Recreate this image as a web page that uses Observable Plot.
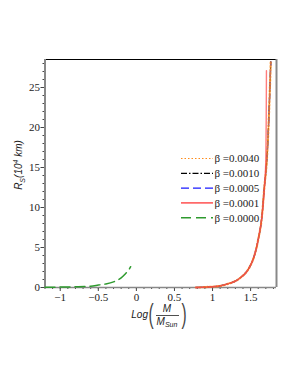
<!DOCTYPE html>
<html>
<head>
<meta charset="utf-8">
<script src="https://cdn.jsdelivr.net/npm/d3@7"></script>
<script src="https://cdn.jsdelivr.net/npm/@observablehq/plot@0.6"></script>
<style>
html,body{margin:0;padding:0;background:#fff;}
</style>
</head>
<body>
<div id="chart"></div>
<script>
// ---- data ----
const xDomain = [-1.2, 1.84];
const yDomain = [0, 28.5];
const xMajorTicks = [-1, -0.5, 0, 0.5, 1, 1.5];
const yMajorTicks = [0, 5, 10, 15, 20, 25];

const seriesNames = ["β =0.0040", "β =0.0010", "β =0.0005", "β =0.0001", "β =0.0000"];

const greenX = [-1.2, -1.0, -0.8, -0.6, -0.5, -0.4, -0.3, -0.25, -0.2, -0.15, -0.1, -0.075];
const greenY = [0.03, 0.05, 0.08, 0.16, 0.3, 0.45, 0.7, 0.9, 1.2, 1.65, 2.2, 2.6];

const mainX = [0.78, 0.85, 0.9, 1.0, 1.1, 1.2, 1.3, 1.37, 1.45, 1.5, 1.55, 1.6, 1.65, 1.68, 1.71, 1.73, 1.75, 1.765];
const y0040 = [0, 0.02, 0.05, 0.1, 0.2, 0.45, 0.8, 1.25, 2.0, 2.8, 4.0, 6.0, 9.0, 12.5, 15.5, 19, 24, 28.3];
const y0010 = [0, 0.02, 0.05, 0.1, 0.2, 0.45, 0.8, 1.25, 2.0, 2.8, 4.0, 6.0, 9.0, 12.5, 15.5, 19, 24, 28.2];
const y0005 = [0, 0.02, 0.05, 0.1, 0.2, 0.45, 0.8, 1.25, 2.0, 2.8, 4.0, 6.0, 9.0, 12.5, 15.5, 19, 24, 28.2];

const redX = [0.78, 0.85, 0.9, 1.0, 1.1, 1.2, 1.3, 1.37, 1.45, 1.5, 1.55, 1.6, 1.65, 1.68, 1.70, 1.705, 1.708];
const y0001 = [0, 0.02, 0.05, 0.1, 0.2, 0.45, 0.8, 1.25, 2.0, 2.8, 4.0, 6.0, 9.0, 12.3, 16, 21, 27.1];

// ---- styles ----
const styles = [
  {color: "#ff8c1a", dash: "1.5,2", width: 1.2},
  {color: "#000000", dash: "6,2,1.5,2", width: 1.2},
  {color: "#1a1aff", dash: "8,4", width: 1.3},
  {color: "#ff4444", dash: null, width: 1.4},
  {color: "#2e9a2e", dash: "10,5", width: 1.5}
];

const toRows = (xs, ys) => xs.map((x, i) => ({x, y: ys[i]}));
const lineMark = (xs, ys, s, w, op) => Plot.line(toRows(xs, ys), {x: "x", y: "y", stroke: s.color, strokeWidth: w ?? s.width, strokeOpacity: op ?? 1, strokeDasharray: s.dash, curve: "monotone-x"});

const fmt = d => String(d).replace("-", "\u2212");
const serif = "'Liberation Serif', 'DejaVu Serif', serif";

const chart = Plot.plot({
  width: 298,
  height: 385,
  marginLeft: 44.5,
  marginRight: 22,
  marginTop: 59,
  marginBottom: 98,
  style: {fontFamily: serif, fontSize: "11px", background: "#fff", overflow: "visible"},
  x: {domain: xDomain, label: null},
  y: {domain: yDomain, label: null},
  marks: [
    Plot.axisX({ticks: d3.range(-12, 19).map(i => i / 10), tickSize: 2, text: null, label: null, stroke: "#444"}),
    Plot.axisX({ticks: xMajorTicks, tickSize: 4, tickFormat: fmt, tickPadding: 2, label: null, fontSize: 11, fill: "#222", stroke: "#444"}),
    Plot.axisY({ticks: d3.range(0, 29), tickSize: 2, text: null, label: null, stroke: "#444"}),
    Plot.axisY({ticks: yMajorTicks, tickSize: 4, tickFormat: fmt, tickPadding: 1, label: null, fontSize: 11, fill: "#222", stroke: "#444"}),
    Plot.ruleY([yDomain[1]], {stroke: "#000", strokeWidth: 1}),
    Plot.ruleX([xDomain[0]], {stroke: "#888", strokeWidth: 2}),
    Plot.ruleX([xDomain[1]], {stroke: "#888", strokeWidth: 2}),
    Plot.ruleY([yDomain[0]], {stroke: "#888", strokeWidth: 1.5}),
    lineMark(greenX, greenY, styles[4]),
    lineMark(mainX, y0010, styles[1]),
    lineMark(mainX, y0005, styles[2]),
    lineMark(mainX, y0040, styles[0], 2.2, 0.8),
    lineMark(redX, y0001, styles[3], 1.4, 0.7)
  ]
});

document.getElementById("chart").appendChild(chart);
const svg = d3.select(chart);

// legend
const lg = svg.append("g").attr("class", "legend").attr("text-anchor", "start");
seriesNames.forEach((name, i) => {
  const y = 158.5 + i * 14.8;
  const s = styles[i];
  lg.append("line").attr("x1", 181).attr("x2", 213).attr("y1", y).attr("y2", y)
    .attr("stroke", s.color).attr("stroke-width", s.width)
    .attr("stroke-dasharray", s.dash);
  lg.append("text").attr("x", 214.5).attr("y", y).attr("dy", "0.35em").attr("text-anchor", "start")
    .attr("font-family", serif).attr("font-size", 11).attr("fill", "#222").text(name);
});

// y-axis title: R_S (10^4 km)
const sans = "'Liberation Sans', 'DejaVu Sans', sans-serif";
const yt = svg.append("text")
  .attr("transform", "translate(22,165) rotate(-90)")
  .attr("text-anchor", "middle")
  .attr("font-family", sans).attr("font-style", "italic").attr("font-size", 10).attr("fill", "#222");
yt.append("tspan").text("R");
yt.append("tspan").attr("font-size", 7).attr("dy", 3).text("S");
yt.append("tspan").attr("dy", -3).text("(10");
yt.append("tspan").attr("font-size", 7).attr("dy", -4).text("4");
yt.append("tspan").attr("dy", 4).text(" km)");

// x-axis title: Log( M / M_Sun )
const xt = svg.append("g").attr("font-family", sans).attr("fill", "#222").attr("font-style", "italic");
xt.append("text").attr("x", 148).attr("y", 318).attr("text-anchor", "end").attr("font-size", 10).text("Log");
xt.append("text").attr("x", 151).attr("y", 323).attr("text-anchor", "middle").attr("font-size", 28)
  .attr("font-style", "normal").attr("font-weight", 200).attr("fill", "#444").attr("transform", "translate(151,323) scale(0.55,1) translate(-151,-323)").text("(");
xt.append("text").attr("x", 184).attr("y", 323).attr("text-anchor", "middle").attr("font-size", 28)
  .attr("font-style", "normal").attr("font-weight", 200).attr("fill", "#444").attr("transform", "translate(184,323) scale(0.55,1) translate(-184,-323)").text(")");
xt.append("text").attr("x", 167).attr("y", 312).attr("text-anchor", "middle").attr("font-size", 10).text("M");
xt.append("line").attr("x1", 156).attr("x2", 179).attr("y1", 315.5).attr("y2", 315.5).attr("stroke", "#222").attr("stroke-width", 0.8);
const ms = xt.append("text").attr("x", 167).attr("y", 325).attr("text-anchor", "middle").attr("font-size", 10);
ms.append("tspan").text("M");
ms.append("tspan").attr("font-size", 7).attr("dy", 2).text("Sun");
</script>
</body>
</html>
